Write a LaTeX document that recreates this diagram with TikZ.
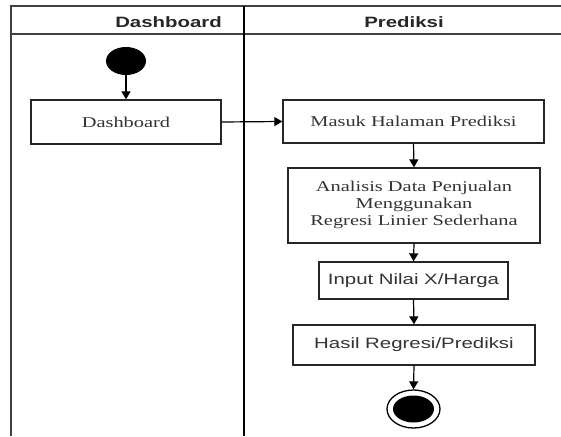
\documentclass[tikz,border=0pt]{standalone}
\usepackage{fontspec}
\setmainfont{Liberation Serif}
\setsansfont{Liberation Sans}
\usetikzlibrary{arrows.meta,shapes.geometric}
\newcommand{\sx}[1]{\scalebox{1.36}[1]{#1}}
\tikzset{
  lane/.style={line width=1.2pt, draw=black!75},
  divider/.style={line width=2pt, draw=black},
  actbox/.style={draw=black!85, line width=1.3pt, rectangle, inner sep=0pt, text=black!80, font=\fontsize{15}{17}\selectfont},
  sansbox/.style={actbox, font=\sffamily\fontsize{15}{17}\selectfont},
  hdr/.style={font=\sffamily\bfseries\fontsize{15}{17}\selectfont, text=black!85, inner sep=0pt},
  flow/.style={line width=1.2pt, -{Triangle[length=8pt,width=9pt]}}
}
\begin{document}
\begin{tikzpicture}[x=1pt,y=-1pt]
\useasboundingbox (0,0) rectangle (561,436);
% swimlanes
\draw[lane] (11,436) -- (11,6) -- (561,6);
\draw[lane] (11,34) -- (561,34);
\draw[divider] (244,6) -- (244,436);
\node[hdr, anchor=east] (h1) at (222,22) {\sx{Dashboard}};
\node[hdr] (h2) at (404,22) {\sx{Prediksi}};
% nodes
\node[ellipse, fill=black, minimum width=40pt, minimum height=28pt, inner sep=0pt] (start) at (126,61) {};
\node[actbox, minimum width=190pt, minimum height=44pt] (dash) at (126,122) {\sx{Dashboard}};
\node[actbox, minimum width=261pt, minimum height=43pt] (masuk) at (413.5,121.5) {\sx{Masuk Halaman Prediksi}};
\node[actbox, minimum width=252pt, minimum height=75pt] (anal) at (414,205.5) {\sx{\begin{tabular}{@{}c@{}}Analisis Data Penjualan\\Menggunakan\\Regresi Linier Sederhana\end{tabular}}};
\node[sansbox, minimum width=189pt, minimum height=37pt] (input) at (413.5,280.5) {\sx{Input Nilai X/Harga}};
\node[sansbox, minimum width=242pt, minimum height=40pt] (hasil) at (414,345) {\sx{Hasil Regresi/Prediksi}};
\node[ellipse, draw=black, line width=1.3pt, fill=white, minimum width=53pt, minimum height=38pt, inner sep=0pt] (end) at (413.5,409) {};
\node[ellipse, fill=black, minimum width=41pt, minimum height=27pt, inner sep=0pt] (endin) at (end.center) {};
% connectors
\draw[flow] (start.south) -- (dash.north);
\draw[flow] (dash.east) -- (masuk.west);
\draw[flow] (masuk.south) -- (anal.north);
\draw[flow] (anal.south) -- (input.north);
\draw[flow] (input.south) -- (hasil.north);
\draw[flow] (hasil.south) -- (end.north);
\end{tikzpicture}
\end{document}
